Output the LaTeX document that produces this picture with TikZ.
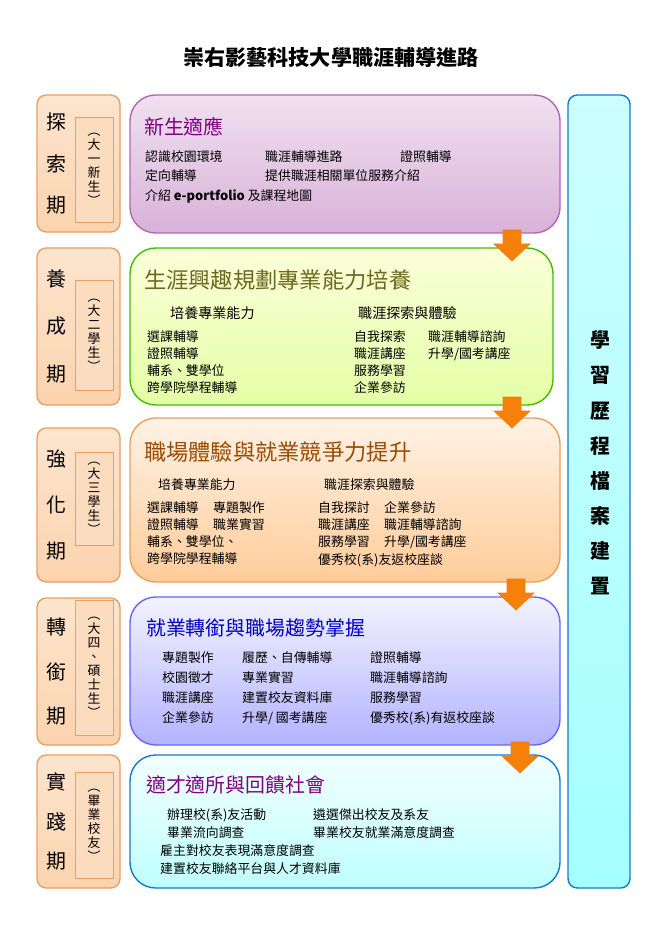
\documentclass[tikz,border=0pt]{standalone}
\usepackage{fontspec}
\setmainfont{Noto Sans CJK TC}
\usetikzlibrary{positioning}
\definecolor{lbord}{HTML}{E9A060}
\definecolor{lfill}{HTML}{FBD3AE}
\tikzset{
  phase/.style={draw=lbord,line width=1.2pt,rounded corners=8pt,
    top color=lfill!60,bottom color=lfill,inner sep=0pt},
  tagbox/.style={draw=lbord,line width=0.8pt,fill=lfill!80,inner sep=0pt},
  stage/.style={line width=1.2pt,rounded corners=22pt,inner sep=0pt},
  big/.style={font=\fontsize{17}{17}\selectfont,anchor=west},
  item/.style={font=\fontsize{11}{11}\selectfont,anchor=west,inner sep=0pt},
  side/.style={font=\fontsize{17}{17}\selectfont,inner sep=0pt},
  downarrow/.style={fill=orange!85!brown,draw=orange!70!brown,line width=0.6pt}
}
\begin{document}
\begin{tikzpicture}[x=0.03cm,y=-0.03cm]
  \useasboundingbox (0,0) rectangle (662,936);
  \node[font=\fontsize{18}{18}\selectfont\bfseries] (title) at (331,57) {崇右影藝科技大學職涯輔導進路};
  % right column
  \draw[draw=cyan!60!blue,line width=1.2pt,rounded corners=8pt,top color=cyan!20,bottom color=cyan!35]
    (568,95) rectangle (630,888);
  \node[side,font=\fontsize{17}{17}\selectfont\bfseries,align=center] (record) at (600,463)
    {學\\[13pt]習\\[13pt]歷\\[13pt]程\\[13pt]檔\\[13pt]案\\[13pt]建\\[13pt]置};
  % stage boxes
  \draw[stage,draw=violet!60,top color=violet!12,bottom color=violet!30] (130,95) rectangle (560,233);
  \draw[stage,draw=green!50!olive,top color=green!10!yellow!15,bottom color=green!30!yellow!35] (130,248) rectangle (553,405);
  \draw[stage,draw=lbord,top color=orange!10,bottom color=orange!40] (130,418) rectangle (560,582);
  \draw[stage,draw=blue!60,top color=blue!5,bottom color=blue!30] (130,597) rectangle (560,745);
  \draw[stage,draw=cyan!60!blue,top color=cyan!5,bottom color=cyan!25] (130,755) rectangle (560,888);
  % arrows
  \foreach \ax/\ay in {512/230,512/397,516/579,520/742}
    \draw[downarrow] (\ax-9,\ay) -- (\ax+9,\ay) -- (\ax+9,\ay+14) -- (\ax+18,\ay+14)
      -- (\ax,\ay+31) -- (\ax-18,\ay+14) -- (\ax-9,\ay+14) -- cycle;
  % left phases
  \foreach \ya/\yb/\ta/\tb/\tc/\tag/\ia/\ib [count=\i] in {
      95/232/探/索/期/{︵\\大\\一\\新\\生\\︶}/117/222,
      248/405/養/成/期/{︵\\大\\二\\學\\生\\︶}/280/390,
      428/582/強/化/期/{︵\\大\\三\\學\\生\\︶}/452/545,
      598/745/轉/銜/期/{︵\\大\\四\\、\\碩\\士\\生\\︶}/600/735,
      755/888/實/踐/期/{︵\\畢\\業\\校\\友\\︶}/772/878}{
    \draw[phase] (37,\ya) rectangle (120,\yb);
    \draw[tagbox] (75,\ia) rectangle (113,\ib);
    \node[side] (p\i a) at (56,{\ya+(\yb-\ya)*0.2}) {\ta};
    \node[side] (p\i b) at (56,{\ya+(\yb-\ya)*0.5}) {\tb};
    \node[side] (p\i c) at (56,{\ya+(\yb-\ya)*0.8}) {\tc};
    \node[font=\fontsize{11}{12}\selectfont,align=center,inner sep=0pt] (t\i) at (94,{(\ia+\ib)/2}) {\tag};
  }
  % stage 1
  \node[big,text=violet] (s1) at (140,127) {新生適應};
  \node[item] at (145,157) {認識校園環境};
  \node[item] at (265,157) {職涯輔導進路};
  \node[item] at (400,157) {證照輔導};
  \node[item] at (145,176) {定向輔導};
  \node[item] at (265,176) {提供職涯相關單位服務介紹};
  \node[item] at (145,196) {介紹 \textbf{e-portfolio} 及課程地圖};
  % stage 2
  \node[big,text=olive!70!black,font=\fontsize{19}{19}\selectfont] (s2) at (140,280) {生涯興趣規劃專業能力培養};
  \node[item,font=\fontsize{12}{12}\selectfont] at (170,313) {培養專業能力};
  \node[item,font=\fontsize{12}{12}\selectfont] at (358,313) {職涯探索與體驗};
  \foreach \t [count=\k] in {選課輔導,證照輔導,輔系、雙學位,跨學院學程輔導}
    \node[item] at (147,{320+17*\k}) {\t};
  \foreach \t [count=\k] in {自我探索,職涯講座,服務學習,企業參訪}
    \node[item] at (354,{320+17*\k}) {\t};
  \node[item] at (428,337) {職涯輔導諮詢};
  \node[item] at (428,354) {升學/國考講座};
  % stage 3
  \node[big,text=orange!60!black,font=\fontsize{19}{19}\selectfont] (s3) at (140,452) {職場體驗與就業競爭力提升};
  \node[item] at (158,485) {培養專業能力};
  \node[item] at (324,485) {職涯探索與體驗};
  \foreach \t [count=\k] in {選課輔導,證照輔導,輔系、雙學位、,跨學院學程輔導}
    \node[item] at (147,{491+17*\k}) {\t};
  \node[item] at (213,508) {專題製作};
  \node[item] at (213,525) {職業實習};
  \foreach \t/\u [count=\k] in {自我探討/企業參訪,職涯講座/職涯輔導諮詢,服務學習/{升學/國考講座}}{
    \node[item] at (318,{491+17*\k}) {\t};
    \node[item] at (384,{491+17*\k}) {\u};
  }
  \node[item] at (318,560) {優秀校(系)友返校座談};
  % stage 4
  \node[big,text=blue!75!black] (s4) at (142,628) {就業轉銜與職場趨勢掌握};
  \foreach \t/\u/\v [count=\k] in {專題製作/履歷、自傳輔導/證照輔導,校園徵才/專業實習/職涯輔導諮詢,
      職涯講座/建置校友資料庫/服務學習,企業參訪/{升學/ 國考講座}/優秀校(系)有返校座談}{
    \node[item] at (162,{638+20*\k}) {\t};
    \node[item] at (242,{638+20*\k}) {\u};
    \node[item] at (370,{638+20*\k}) {\v};
  }
  % stage 5
  \node[big,text=violet] (s5) at (142,785) {適才適所與回饋社會};
  \node[item] at (167,815) {辦理校(系)友活動};
  \node[item] at (313,815) {遴選傑出校友及系友};
  \node[item] at (167,833) {畢業流向調查};
  \node[item] at (313,833) {畢業校友就業滿意度調查};
  \node[item] at (160,851) {雇主對校友表現滿意度調查};
  \node[item] at (160,869) {建置校友聯絡平台與人才資料庫};
\end{tikzpicture}
\end{document}
